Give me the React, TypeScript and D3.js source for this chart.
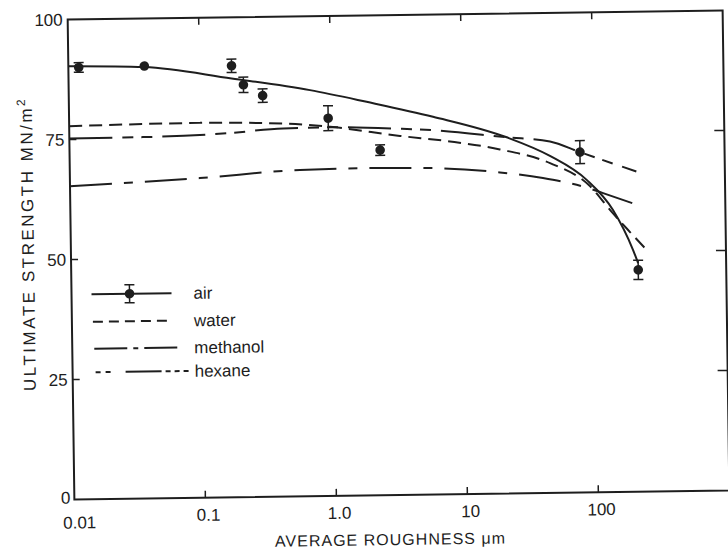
import React from "react";
import * as d3 from "d3";

// ---- data ----
const xTickValues = [0.01, 0.1, 1, 10, 100];
const xTickLabels = ["0.01", "0.1", "1.0", "10", "100"];
const yTickValues = [0, 25, 50, 75, 100];
const yTickLabels = ["0", "25", "50", "75", "100"];

const airPointX = [0.012, 0.038, 0.176, 0.216, 0.302, 0.95, 2.35, 78.7, 213];
const airPointY = [90.0, 90.1, 89.9, 85.9, 83.6, 78.7, 71.9, 70.9, 46.2];
const airPointErr = [1.0, 0, 1.4, 1.6, 1.4, 2.6, 1.1, 2.4, 2.0];

const airCurveX = [0.01, 0.038, 0.176, 0.695, 1.875, 6.0, 21.8, 46.4, 88, 138.7, 195.5, 213];
const airCurveY = [90.3, 89.9, 87.25, 84.6, 82.0, 78.7, 74.2, 70.2, 65.1, 58.75, 50.35, 47.6];

const waterX = [0.01, 0.1, 0.43, 0.98, 3.34, 8.04, 19.3, 46.4, 93, 136, 186, 241];
const waterY = [77.8, 78.1, 77.7, 76.9, 74.8, 73.5, 71.7, 68.7, 63.8, 58.3, 54.1, 50.7];

const methanolX = [0.01, 0.098, 0.572, 1.86, 5.93, 19.2, 40.8, 89.7, 117, 215];
const methanolY = [65.3, 66.6, 68.0, 68.2, 68.0, 66.9, 65.6, 63.4, 62.3, 59.7];

const hexaneX = [0.01, 0.0365, 0.159, 0.43, 0.98, 3.34, 6.0, 21.8, 46.6, 78.7, 211];
const hexaneY = [75.25, 75.3, 75.85, 76.7, 76.8, 76.3, 75.9, 74.2, 73.2, 70.9, 66.7];

const legendNames = ["air", "water", "methanol", "hexane"];

// ---- layout / style ----
const W = 728;
const H = 553;
const M = { left: 71, right: 726, top: 15, bottom: 495 };
const INK = "#1e1e1e";
const FONT = "'Liberation Sans', Arial, sans-serif";
const DASH = {
  air: undefined as string | undefined,
  water: "13,7",
  methanol: "42,12,9,12",
  hexane: "43,10,11,8,11,10",
};
const LEGEND_DASH = {
  air: undefined as string | undefined,
  water: "10,6",
  methanol: "33,6,5,6,40",
  hexane: "5,5,5,15,36,4,5,4,5,4,5",
};

export default function App() {
  const x = d3.scaleLog().domain([0.01, 1000]).range([M.left, M.right]);
  const y = d3.scaleLinear().domain([0, 100]).range([M.bottom, M.top]);

  const line = d3
    .line<[number, number]>()
    .x((d) => x(d[0]))
    .y((d) => y(d[1]))
    .curve(d3.curveMonotoneX);

  const zip = (xs: number[], ys: number[]) =>
    xs.map((v, i) => [v, ys[i]] as [number, number]);

  const curves = [
    { key: "air", d: line(zip(airCurveX, airCurveY)), dash: DASH.air },
    { key: "water", d: line(zip(waterX, waterY)), dash: DASH.water },
    { key: "methanol", d: line(zip(methanolX, methanolY)), dash: DASH.methanol },
    { key: "hexane", d: line(zip(hexaneX, hexaneY)), dash: DASH.hexane },
  ];

  const tickLen = 7;
  const legendRows = [
    { name: legendNames[0], y: 290, x1: 91, x2: 171, dash: LEGEND_DASH.air, marker: true },
    { name: legendNames[1], y: 317.5, x1: 92, x2: 171, dash: LEGEND_DASH.water, marker: false },
    { name: legendNames[2], y: 344.5, x1: 93, x2: 176, dash: LEGEND_DASH.methanol, marker: false },
    { name: legendNames[3], y: 368, x1: 94, x2: 189, dash: LEGEND_DASH.hexane, marker: false },
  ];

  return (
    <svg
      width={W}
      height={H}
      style={{ position: "absolute", left: 0, top: 0, background: "#fff" }}
    >
      <rect x={0} y={0} width={W} height={H} fill="#fff" />
      <g transform="rotate(-0.8, 398, 255)">
        {/* frame */}
        <rect
          x={M.left}
          y={M.top}
          width={M.right - M.left}
          height={M.bottom - M.top}
          fill="none"
          stroke={INK}
          strokeWidth={2}
        />
        {/* x ticks */}
        {xTickValues.map((v, i) => (
          <g key={"xt" + i}>
            {i > 0 && (
              <>
                <line x1={x(v)} x2={x(v)} y1={M.bottom} y2={M.bottom - tickLen} stroke={INK} strokeWidth={1.5} />
                <line x1={x(v)} x2={x(v)} y1={M.top} y2={M.top + tickLen} stroke={INK} strokeWidth={1.5} />
              </>
            )}
            <text
              x={x(v) + (i === 0 ? 5 : 3)}
              y={M.bottom + (i === 0 ? 29 : 23)}
              textAnchor="middle"
              fontFamily={FONT}
              fontSize={17}
              fill={INK}
            >
              {xTickLabels[i]}
            </text>
          </g>
        ))}
        {/* y ticks */}
        {yTickValues.map((v, i) => (
          <g key={"yt" + i}>
            {v > 0 && v < 100 && (
              <>
                <line x1={M.left} x2={M.left + tickLen} y1={y(v)} y2={y(v)} stroke={INK} strokeWidth={1.5} />
                <line x1={M.right} x2={M.right - tickLen - 3} y1={y(v)} y2={y(v)} stroke={INK} strokeWidth={1.5} />
              </>
            )}
            <text
              x={M.left - (v === 0 ? 4 : 5)}
              y={y(v) + (v === 0 ? 4 : 6)}
              textAnchor="end"
              fontFamily={FONT}
              fontSize={17}
              fill={INK}
            >
              {yTickLabels[i]}
            </text>
          </g>
        ))}
        {/* axis titles */}
        <text
          x={386}
          y={545}
          textAnchor="middle"
          fontFamily={FONT}
          fontSize={16}
          fill={INK}
          textLength={230}
          lengthAdjust="spacing"
        >
          AVERAGE ROUGHNESS  μm
        </text>
        <text
          transform="translate(34, 240) rotate(-90)"
          textAnchor="middle"
          fontFamily={FONT}
          fontSize={17}
          fill={INK}
          textLength={292}
          lengthAdjust="spacing"
        >
          ULTIMATE STRENGTH  MN/m<tspan dy={-7} fontSize={12}>2</tspan>
        </text>

        {/* curves */}
        {curves.map((c) => (
          <path
            key={c.key}
            d={c.d || ""}
            fill="none"
            stroke={INK}
            strokeWidth={2}
            strokeDasharray={c.dash}
          />
        ))}

        {/* air data points with error bars */}
        {airPointX.map((xv, i) => {
          const cx = x(xv);
          const cy = y(airPointY[i]);
          const e = airPointErr[i];
          return (
            <g key={"p" + i}>
              {e > 0 && (
                <>
                  <line x1={cx} x2={cx} y1={y(airPointY[i] - e)} y2={y(airPointY[i] + e)} stroke={INK} strokeWidth={1.5} />
                  <line x1={cx - 5} x2={cx + 5} y1={y(airPointY[i] - e)} y2={y(airPointY[i] - e)} stroke={INK} strokeWidth={1.5} />
                  <line x1={cx - 5} x2={cx + 5} y1={y(airPointY[i] + e)} y2={y(airPointY[i] + e)} stroke={INK} strokeWidth={1.5} />
                </>
              )}
              <circle cx={cx} cy={cy} r={4.8} fill={INK} />
            </g>
          );
        })}

        {/* legend */}
        {legendRows.map((r) => (
          <g key={"lg" + r.name}>
            <line x1={r.x1} x2={r.x2} y1={r.y} y2={r.y} stroke={INK} strokeWidth={2} strokeDasharray={r.dash} />
            {r.marker && (
              <>
                <line x1={129} x2={129} y1={r.y - 9} y2={r.y + 9} stroke={INK} strokeWidth={1.5} />
                <line x1={124} x2={134} y1={r.y - 9} y2={r.y - 9} stroke={INK} strokeWidth={1.5} />
                <line x1={124} x2={134} y1={r.y + 9} y2={r.y + 9} stroke={INK} strokeWidth={1.5} />
                <circle cx={129} cy={r.y} r={4.8} fill={INK} />
              </>
            )}
            <text x={193} y={r.y + 6} fontFamily={FONT} fontSize={17} fill={INK}>
              {r.name}
            </text>
          </g>
        ))}
      </g>
    </svg>
  );
}
